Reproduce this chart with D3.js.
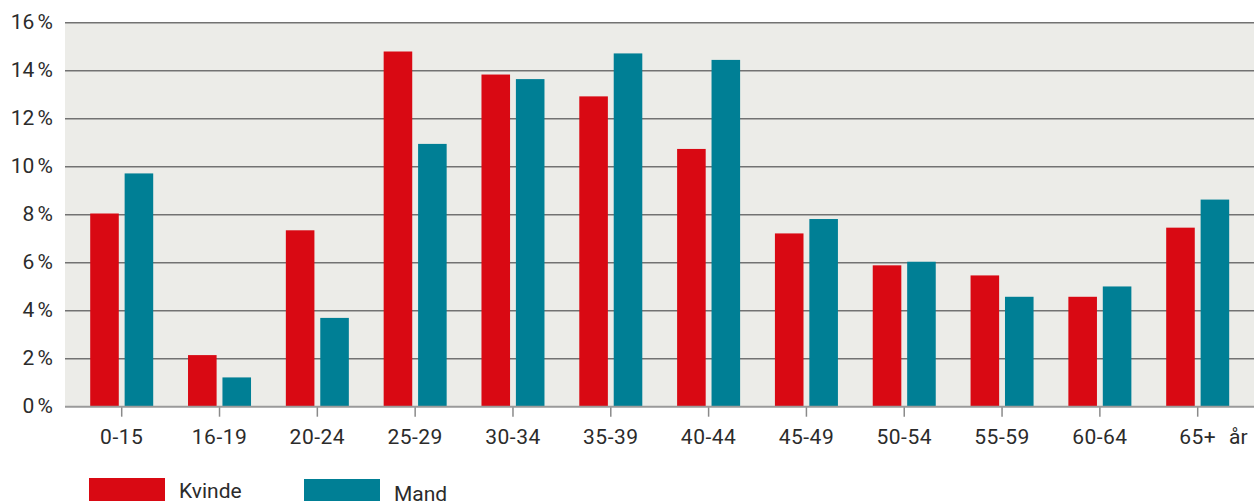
<!DOCTYPE html>
<html>
<head>
<meta charset="utf-8">
<script src="https://cdn.jsdelivr.net/npm/d3@7/dist/d3.min.js"></script>
<style>
  body { margin: 0; background: #fff; }
  text { font-family: Roboto, "DejaVu Sans", sans-serif; fill: #2b2b2b; }
</style>
</head>
<body>
<div class="chart"></div>
<script>
// age groups and share (%) per sex
var categories = ["0-15", "16-19", "20-24", "25-29", "30-34", "35-39", "40-44", "45-49", "50-54", "55-59", "60-64", "65+"];
var kvinde = [8.05, 2.15, 7.35, 14.8, 13.84, 12.93, 10.74, 7.22, 5.89, 5.47, 4.58, 7.46];
var mand = [9.72, 1.22, 3.7, 10.95, 13.65, 14.72, 14.45, 7.82, 6.04, 4.58, 5.01, 8.63];
var yTicks = [0, 2, 4, 6, 8, 10, 12, 14, 16];
var seriesNames = ["Kvinde", "Mand"];
var colors = ["#d90913", "#007f95"];

var width = 1254, height = 501;

var svg = d3.select(".chart").append("svg")
    .attr("width", width)
    .attr("height", height);

var y = d3.scaleLinear().domain([0, 16]).range([406.7, 22.7]);
var x = d3.scaleBand().domain(categories).range([72.8, 1246.6]);
var x1 = d3.scaleBand().domain(seriesNames).range([-31.5, 31.5]).paddingInner(0.17);

// plot background
svg.append("rect")
    .attr("x", 65)
    .attr("y", y(16))
    .attr("width", width - 65)
    .attr("height", y(0) - y(16))
    .attr("fill", "#ecece8");

// grid lines
svg.selectAll("line.grid")
    .data(yTicks.filter(function (d) { return d > 0; }))
    .enter()
    .append("line")
    .attr("class", "grid")
    .attr("x1", 65)
    .attr("x2", width)
    .attr("y1", function (d) { return y(d); })
    .attr("y2", function (d) { return y(d); })
    .attr("stroke", "#727272")
    .attr("stroke-width", 1.6);

// y labels
svg.selectAll("text.ylab")
    .data(yTicks)
    .enter()
    .append("text")
    .attr("class", "ylab")
    .attr("x", 53)
    .attr("y", function (d) { return y(d) + 6; })
    .attr("text-anchor", "end")
    .style("font-size", "21px")
    .style("word-spacing", "-2px")
    .text(function (d) { return d + " %"; });

// bars
var groups = svg.selectAll("g.grp")
    .data(categories)
    .enter()
    .append("g")
    .attr("class", "grp")
    .attr("transform", function (d) { return "translate(" + (x(d) + x.bandwidth() / 2) + ",0)"; });

groups.selectAll("rect")
    .data(function (d, i) {
        return [{ s: "Kvinde", v: kvinde[i], c: colors[0] }, { s: "Mand", v: mand[i], c: colors[1] }];
    })
    .enter()
    .append("rect")
    .attr("x", function (d) { return x1(d.s); })
    .attr("width", x1.bandwidth())
    .attr("y", function (d) { return y(d.v); })
    .attr("height", function (d) { return y(0) - y(d.v); })
    .attr("fill", function (d) { return d.c; });

// baseline
svg.append("line")
    .attr("x1", 65)
    .attr("x2", width)
    .attr("y1", y(0))
    .attr("y2", y(0))
    .attr("stroke", "#9a9a9a")
    .attr("stroke-width", 2);

// x ticks and labels
groups.append("line")
    .attr("x1", 0)
    .attr("x2", 0)
    .attr("y1", y(0))
    .attr("y2", y(0) + 10)
    .attr("stroke", "#8a8a8a")
    .attr("stroke-width", 1.5);

groups.append("text")
    .attr("x", 0)
    .attr("y", 444)
    .attr("text-anchor", "middle")
    .style("font-size", "21px")
    .style("letter-spacing", "0.5px")
    .text(function (d) { return d; });

svg.append("text")
    .attr("x", 1229)
    .attr("y", 444)
    .style("font-size", "21px")
    .text("år");

// legend
var legendX = [89, 304];
var legendY = [478, 479];
var legend = svg.selectAll("g.legend")
    .data(seriesNames)
    .enter()
    .append("g")
    .attr("class", "legend");

legend.append("rect")
    .attr("x", function (d, i) { return legendX[i]; })
    .attr("y", function (d, i) { return legendY[i]; })
    .attr("width", 76)
    .attr("height", 30)
    .attr("fill", function (d, i) { return colors[i]; });

legend.append("text")
    .attr("x", function (d, i) { return legendX[i] + 90; })
    .attr("y", function (d, i) { return legendY[i] + 20 + i * 2; })
    .style("font-size", "21px")
    .text(function (d) { return d; });
</script>
</body>
</html>
